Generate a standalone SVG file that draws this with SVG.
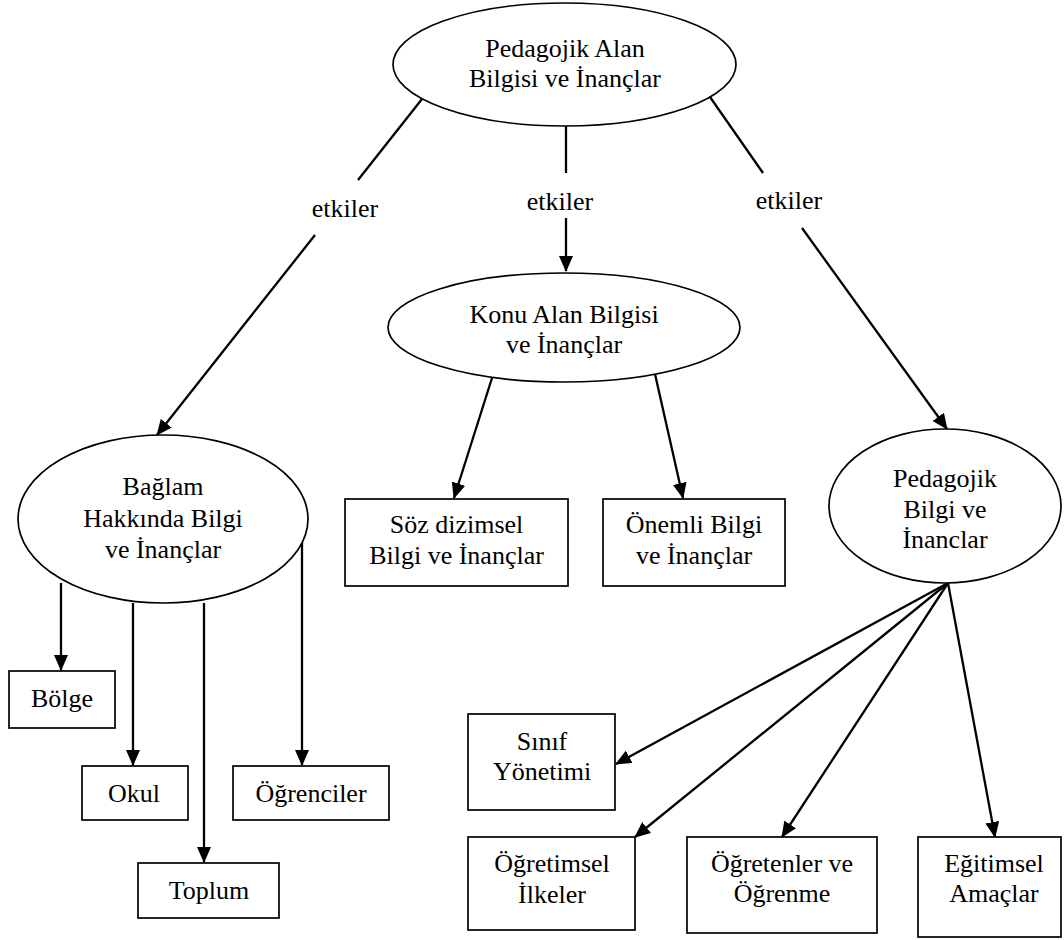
<svg xmlns="http://www.w3.org/2000/svg" width="1064" height="940" viewBox="0 0 1064 940">
  <style>
    .shape { fill: #fff; stroke: #000; stroke-width: 1.7; }
    .lbl { font-family: "Liberation Serif", "Times New Roman", Times, serif; font-size: 26px; fill: #000; text-anchor: middle; }
    .edge { stroke: #000; stroke-width: 2.3; fill: none; }
    .arrow { marker-end: url(#head); }
  </style>
  <defs>
    <marker id="head" viewBox="0 0 16 14" refX="15" refY="7" markerWidth="16" markerHeight="14" markerUnits="userSpaceOnUse" orient="auto">
      <path d="M0,0 L16,7 L0,14 z" fill="#000"/>
    </marker>
  </defs>

  <rect width="1064" height="940" fill="#fff"/>

  <!-- connectors -->
  <g id="connectors">
    <!-- influence links from the root concept -->
    <line class="edge" x1="422" y1="99" x2="358" y2="180"/>
    <line class="edge arrow" x1="315" y1="235" x2="157" y2="435"/>
    <line class="edge" x1="566" y1="126" x2="566" y2="173"/>
    <line class="edge arrow" x1="566" y1="218" x2="566" y2="271"/>
    <line class="edge" x1="710" y1="97" x2="763" y2="173"/>
    <line class="edge arrow" x1="802" y1="228" x2="947" y2="429"/>

    <!-- context knowledge -->
    <line class="edge arrow" x1="61" y1="583" x2="61" y2="670"/>
    <line class="edge arrow" x1="133" y1="603" x2="133" y2="765"/>
    <line class="edge arrow" x1="204" y1="603" x2="204" y2="862"/>
    <line class="edge arrow" x1="302" y1="537" x2="302" y2="765"/>

    <!-- subject matter knowledge -->
    <line class="edge arrow" x1="492" y1="378" x2="454" y2="498"/>
    <line class="edge arrow" x1="655" y1="374" x2="683" y2="498"/>

    <!-- pedagogical knowledge -->
    <line class="edge arrow" x1="948" y1="583" x2="616" y2="764"/>
    <line class="edge arrow" x1="948" y1="583" x2="635" y2="837"/>
    <line class="edge arrow" x1="948" y1="583" x2="782" y2="837"/>
    <line class="edge arrow" x1="948" y1="583" x2="995" y2="837"/>
  </g>

  <!-- edge labels -->
  <g id="edge-labels">
    <text class="lbl" x="345" y="217">etkiler</text>
    <text class="lbl" x="560" y="210">etkiler</text>
    <text class="lbl" x="789" y="209">etkiler</text>
  </g>

  <g id="pck">
    <ellipse class="shape" cx="564.5" cy="64.5" rx="171.5" ry="61.5"/>
    <text class="lbl" x="565" y="57">Pedagojik Alan</text>
    <text class="lbl" x="565" y="87">Bilgisi ve İnançlar</text>
  </g>

  <g id="konu">
    <ellipse class="shape" cx="564" cy="327.5" rx="176" ry="54.5"/>
    <text class="lbl" x="564" y="323">Konu Alan Bilgisi</text>
    <text class="lbl" x="564" y="353">ve İnançlar</text>
  </g>

  <g id="baglam">
    <ellipse class="shape" cx="163" cy="519" rx="145" ry="84"/>
    <text class="lbl" x="163" y="495">Bağlam</text>
    <text class="lbl" x="163" y="527">Hakkında Bilgi</text>
    <text class="lbl" x="163" y="558">ve İnançlar</text>
  </g>

  <g id="pedagojik">
    <ellipse class="shape" cx="945" cy="506" rx="116" ry="77"/>
    <text class="lbl" x="945" y="487">Pedagojik</text>
    <text class="lbl" x="945" y="518">Bilgi ve</text>
    <text class="lbl" x="945" y="548">İnanclar</text>
  </g>

  <g id="soz">
    <rect class="shape" x="345" y="499" width="223" height="87"/>
    <text class="lbl" x="456.5" y="533">Söz dizimsel</text>
    <text class="lbl" x="456.5" y="564">Bilgi ve İnançlar</text>
  </g>

  <g id="onemli">
    <rect class="shape" x="603" y="499" width="182" height="87"/>
    <text class="lbl" x="694" y="533">Önemli Bilgi</text>
    <text class="lbl" x="694" y="564">ve İnançlar</text>
  </g>

  <g id="bolge">
    <rect class="shape" x="9" y="671" width="106" height="57"/>
    <text class="lbl" x="62" y="707">Bölge</text>
  </g>

  <g id="okul">
    <rect class="shape" x="82" y="766" width="106" height="54"/>
    <text class="lbl" x="134" y="802">Okul</text>
  </g>

  <g id="ogrenciler">
    <rect class="shape" x="233" y="766" width="156" height="54"/>
    <text class="lbl" x="311" y="802">Öğrenciler</text>
  </g>

  <g id="toplum">
    <rect class="shape" x="138" y="863" width="141" height="55"/>
    <text class="lbl" x="209" y="899">Toplum</text>
  </g>

  <g id="sinif">
    <rect class="shape" x="468" y="714" width="147" height="96"/>
    <text class="lbl" x="542" y="750">Sınıf</text>
    <text class="lbl" x="542" y="780">Yönetimi</text>
  </g>

  <g id="ogretimsel">
    <rect class="shape" x="468" y="837" width="167" height="93"/>
    <text class="lbl" x="552" y="872">Öğretimsel</text>
    <text class="lbl" x="552" y="903">İlkeler</text>
  </g>

  <g id="ogretenler">
    <rect class="shape" x="687" y="837" width="190" height="96"/>
    <text class="lbl" x="782" y="872">Öğretenler ve</text>
    <text class="lbl" x="782" y="902">Öğrenme</text>
  </g>

  <g id="egitimsel">
    <rect class="shape" x="918" y="837" width="143" height="100"/>
    <text class="lbl" x="994" y="872">Eğitimsel</text>
    <text class="lbl" x="994" y="902">Amaçlar</text>
  </g>
</svg>
